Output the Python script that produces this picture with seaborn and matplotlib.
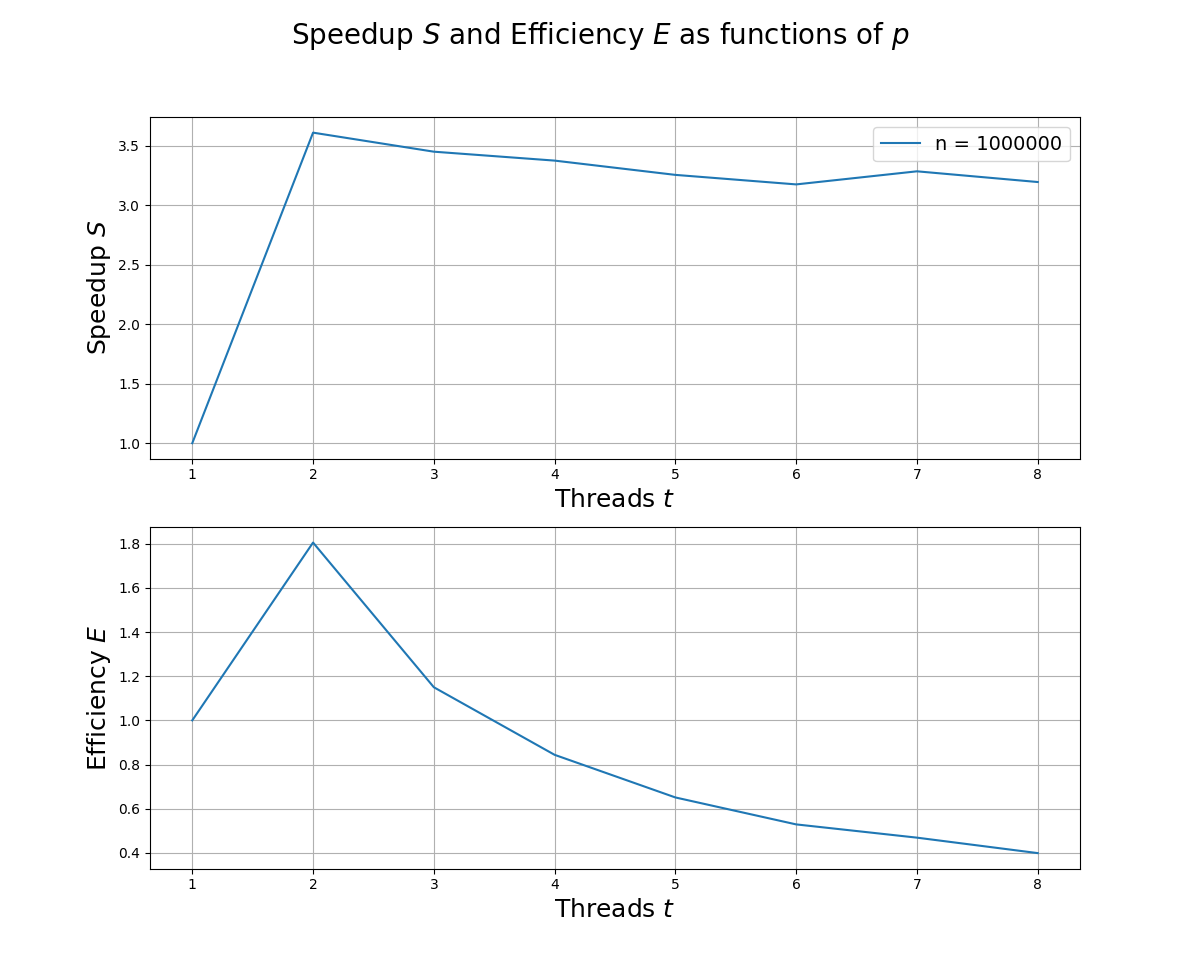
import matplotlib
matplotlib.use("Agg")
import matplotlib.pyplot as plt
import seaborn as sns

threads = [1, 2, 3, 4, 5, 6, 7, 8]
speedup = [1.0, 3.61, 3.45, 3.375, 3.255, 3.175, 3.285, 3.195]
efficiency = [1.0, 1.805, 1.15, 0.844, 0.651, 0.529, 0.469, 0.399]

fig, (ax1, ax2) = plt.subplots(2, 1, figsize=(12, 9.76), dpi=100)
fig.suptitle("Speedup $S$ and Efficiency $E$ as functions of $p$", fontsize=20)

sns.lineplot(x=threads, y=speedup, ax=ax1, label="n = 1000000")
ax1.set_xlabel("Threads $t$", fontsize=18)
ax1.set_ylabel("Speedup $S$", fontsize=18)
ax1.grid(True)
ax1.legend(fontsize=14, loc="upper right")

sns.lineplot(x=threads, y=efficiency, ax=ax2)
ax2.set_xlabel("Threads $t$", fontsize=18)
ax2.set_ylabel("Efficiency $E$", fontsize=18)
ax2.grid(True)

plt.savefig("out.png")
